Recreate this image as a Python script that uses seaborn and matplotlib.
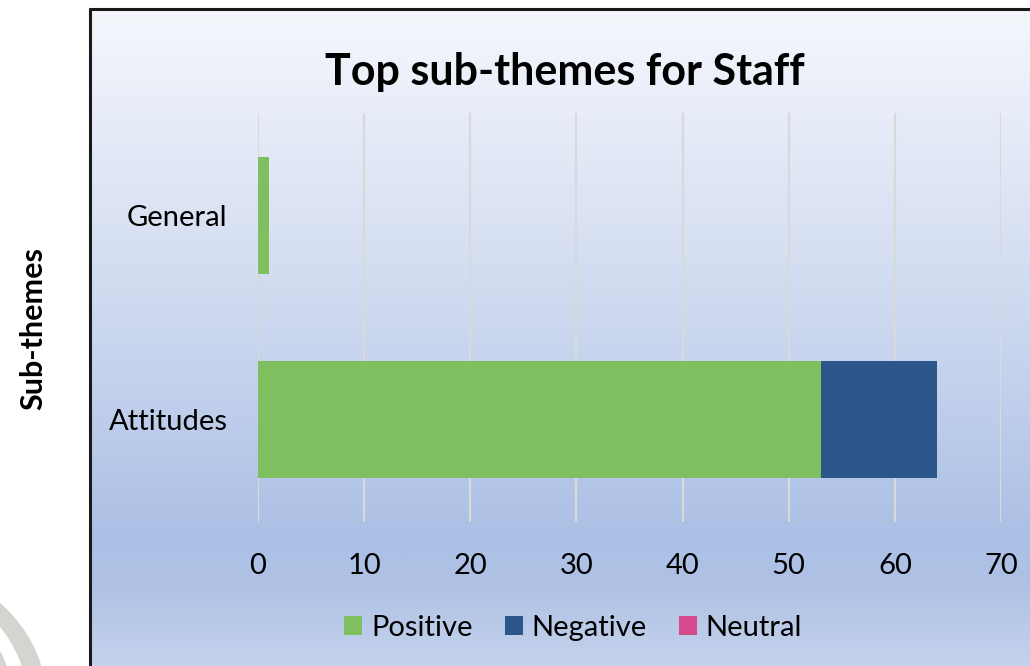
import matplotlib

matplotlib.use("Agg")

import matplotlib.pyplot as plt
import numpy as np
import pandas as pd
import seaborn as sns
from matplotlib.colors import LinearSegmentedColormap
from matplotlib.lines import Line2D
from matplotlib.patches import Patch, Wedge

# data
sub_themes = ["General", "Attitudes"]
positive = [1, 53]
negative = [0, 11]
neutral = [0, 0]
x_ticks = [0, 10, 20, 30, 40, 50, 60, 70]

COLORS = {"Positive": "#7fbf60", "Negative": "#2c5589", "Neutral": "#d54a8c"}
W, H = 1030, 666

sns.set_theme(style="white")
plt.rcParams["font.family"] = ["Lato", "DejaVu Sans"]
plt.rcParams["text.color"] = "black"

fig = plt.figure(figsize=(W / 100, H / 100), dpi=100)
fig.patch.set_facecolor("white")

# faint logo watermark at bottom-left
for r, w in [(250, 18), (216, 15)]:
    fig.patches.append(
        Wedge((-205 / W, -30 / H), r / W, 0, 60, width=w / W, color="#d4d4d0",
              transform=fig.transFigure, zorder=0)
    )

# gradient chart area box
bg = fig.add_axes([90 / W, 0, 1 - 90 / W, (H - 9) / H], zorder=1)
stops = [(0.0, "#f5f7fc"), (0.15, "#e8edf8"), (0.45, "#cfdaf0"),
         (0.80, "#acc0e5"), (0.88, "#afc2e5"), (1.0, "#c4d2ec")]
cmap = LinearSegmentedColormap.from_list("bg", stops)
bg.imshow(np.linspace(0, 1, 256).reshape(-1, 1), aspect="auto", cmap=cmap,
          extent=[0, 1, 0, 1], origin="upper")
bg.set_axis_off()
fig.lines.append(Line2D([90 / W, 90 / W], [0, (H - 9) / H], color="#1a1a1a",
                        lw=2.2, transform=fig.transFigure, zorder=5))
fig.lines.append(Line2D([90 / W, 1], [(H - 9) / H, (H - 9) / H], color="#1a1a1a",
                        lw=2.2, transform=fig.transFigure, zorder=5))

df = pd.DataFrame({
    "sub_theme": sub_themes,
    "Positive": positive,
    "Negative": negative,
    "Neutral": neutral,
})
df["neg_end"] = df["Positive"] + df["Negative"]
df["neu_end"] = df["neg_end"] + df["Neutral"]

ax = fig.add_axes([258 / W, (H - 522) / H, (1001 - 258) / W, (522 - 113) / H], zorder=2)
ax.patch.set_alpha(0)
bar_kw = dict(y="sub_theme", order=sub_themes, orient="h", width=0.57, ax=ax,
              saturation=1, linewidth=0)
sns.barplot(data=df, x="neu_end", color=COLORS["Neutral"], **bar_kw)
sns.barplot(data=df, x="neg_end", color=COLORS["Negative"], **bar_kw)
sns.barplot(data=df, x="Positive", color=COLORS["Positive"], **bar_kw)

ax.set_xlim(0, 70)
ax.set_ylim(1.5, -0.5)
ax.set_xticks(x_ticks)
ax.xaxis.grid(True, color="#d9d9d9", lw=1.6)
ax.set_axisbelow(True)
for s in ax.spines.values():
    s.set_visible(False)
ax.tick_params(axis="x", length=0, pad=22, labelsize=21, colors="black")
ax.tick_params(axis="y", length=0, pad=22, labelsize=21, colors="black")
ax.set_xlabel("")
ax.set_ylabel("")

fig.text(565 / W, (H - 72) / H, "Top sub-themes for Staff", ha="center", va="center",
         fontsize=31, fontweight="bold", color="black", zorder=3)
fig.text(33 / W, (H - 328) / H, "Sub-themes", rotation=90, ha="center", va="center",
         fontsize=22, fontweight="bold", color="black")

handles = [Patch(facecolor=COLORS[k], edgecolor="none") for k in ["Positive", "Negative", "Neutral"]]
leg = fig.legend(handles, ["Positive", "Negative", "Neutral"], loc="center",
                 bbox_to_anchor=(573 / W, (H - 628) / H), ncol=3, frameon=False,
                 fontsize=21, handlelength=0.62, handleheight=0.62, handletextpad=0.3,
                 columnspacing=1.1)
for t in leg.get_texts():
    t.set_color("black")

fig.savefig("out.png", dpi=100)
plt.close(fig)
